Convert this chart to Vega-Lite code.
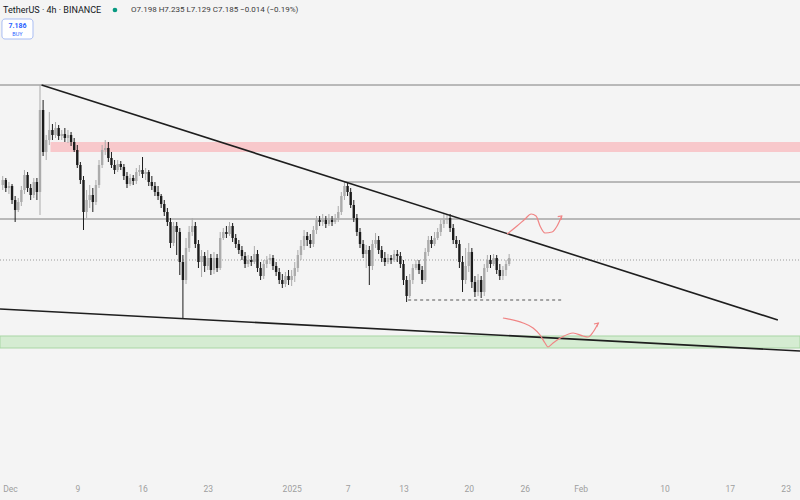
{
  "$schema": "https://vega.github.io/schema/vega-lite/v6.json",
  "width": 800,
  "height": 478,
  "autosize": "none",
  "padding": {"left": 0, "top": 0, "right": 0, "bottom": 22},
  "background": "#f4f4f4",
  "config": {"view": {"stroke": null, "fill": "#f4f4f4"}},
  "datasets": {
    "candles": [
      {"t":"2024-12-01T00:00Z","o":7.258,"h":7.267,"l":7.253,"c":7.263},
      {"t":"2024-12-01T08:00Z","o":7.263,"h":7.265,"l":7.251,"c":7.255},
      {"t":"2024-12-01T16:00Z","o":7.255,"h":7.261,"l":7.249,"c":7.257},
      {"t":"2024-12-02T00:00Z","o":7.257,"h":7.259,"l":7.239,"c":7.243},
      {"t":"2024-12-02T08:00Z","o":7.243,"h":7.247,"l":7.221,"c":7.233},
      {"t":"2024-12-02T16:00Z","o":7.233,"h":7.245,"l":7.231,"c":7.241},
      {"t":"2024-12-03T00:00Z","o":7.241,"h":7.257,"l":7.237,"c":7.253},
      {"t":"2024-12-03T08:00Z","o":7.253,"h":7.273,"l":7.249,"c":7.268},
      {"t":"2024-12-03T16:00Z","o":7.268,"h":7.271,"l":7.251,"c":7.255},
      {"t":"2024-12-04T00:00Z","o":7.255,"h":7.259,"l":7.243,"c":7.248},
      {"t":"2024-12-04T08:00Z","o":7.248,"h":7.265,"l":7.245,"c":7.261},
      {"t":"2024-12-04T16:00Z","o":7.261,"h":7.265,"l":7.243,"c":7.251},
      {"t":"2024-12-05T00:00Z","o":7.251,"h":7.358,"l":7.228,"c":7.333},
      {"t":"2024-12-05T08:00Z","o":7.333,"h":7.343,"l":7.287,"c":7.291},
      {"t":"2024-12-05T16:00Z","o":7.291,"h":7.308,"l":7.283,"c":7.303},
      {"t":"2024-12-06T00:00Z","o":7.303,"h":7.331,"l":7.298,"c":7.313},
      {"t":"2024-12-06T08:00Z","o":7.313,"h":7.319,"l":7.303,"c":7.308},
      {"t":"2024-12-06T16:00Z","o":7.308,"h":7.321,"l":7.305,"c":7.315},
      {"t":"2024-12-07T00:00Z","o":7.315,"h":7.318,"l":7.303,"c":7.307},
      {"t":"2024-12-07T08:00Z","o":7.307,"h":7.313,"l":7.303,"c":7.309},
      {"t":"2024-12-07T16:00Z","o":7.309,"h":7.315,"l":7.301,"c":7.305},
      {"t":"2024-12-08T00:00Z","o":7.305,"h":7.313,"l":7.300,"c":7.308},
      {"t":"2024-12-08T08:00Z","o":7.308,"h":7.311,"l":7.297,"c":7.301},
      {"t":"2024-12-08T16:00Z","o":7.301,"h":7.305,"l":7.291,"c":7.293},
      {"t":"2024-12-09T00:00Z","o":7.293,"h":7.298,"l":7.275,"c":7.278},
      {"t":"2024-12-09T08:00Z","o":7.278,"h":7.281,"l":7.259,"c":7.263},
      {"t":"2024-12-09T16:00Z","o":7.263,"h":7.267,"l":7.213,"c":7.231},
      {"t":"2024-12-10T00:00Z","o":7.231,"h":7.253,"l":7.225,"c":7.243},
      {"t":"2024-12-10T08:00Z","o":7.243,"h":7.258,"l":7.235,"c":7.248},
      {"t":"2024-12-10T16:00Z","o":7.248,"h":7.255,"l":7.231,"c":7.241},
      {"t":"2024-12-11T00:00Z","o":7.241,"h":7.263,"l":7.238,"c":7.258},
      {"t":"2024-12-11T08:00Z","o":7.258,"h":7.283,"l":7.255,"c":7.278},
      {"t":"2024-12-11T16:00Z","o":7.278,"h":7.298,"l":7.275,"c":7.293},
      {"t":"2024-12-12T00:00Z","o":7.293,"h":7.303,"l":7.288,"c":7.295},
      {"t":"2024-12-12T08:00Z","o":7.295,"h":7.301,"l":7.281,"c":7.285},
      {"t":"2024-12-12T16:00Z","o":7.285,"h":7.291,"l":7.275,"c":7.278},
      {"t":"2024-12-13T00:00Z","o":7.278,"h":7.283,"l":7.269,"c":7.273},
      {"t":"2024-12-13T08:00Z","o":7.273,"h":7.283,"l":7.271,"c":7.279},
      {"t":"2024-12-13T16:00Z","o":7.279,"h":7.282,"l":7.273,"c":7.276},
      {"t":"2024-12-14T00:00Z","o":7.276,"h":7.279,"l":7.263,"c":7.267},
      {"t":"2024-12-14T08:00Z","o":7.267,"h":7.271,"l":7.255,"c":7.259},
      {"t":"2024-12-14T16:00Z","o":7.259,"h":7.269,"l":7.257,"c":7.265},
      {"t":"2024-12-15T00:00Z","o":7.265,"h":7.268,"l":7.258,"c":7.262},
      {"t":"2024-12-15T08:00Z","o":7.262,"h":7.275,"l":7.259,"c":7.271},
      {"t":"2024-12-15T16:00Z","o":7.271,"h":7.278,"l":7.267,"c":7.273},
      {"t":"2024-12-16T00:00Z","o":7.273,"h":7.286,"l":7.265,"c":7.269},
      {"t":"2024-12-16T08:00Z","o":7.269,"h":7.275,"l":7.263,"c":7.271},
      {"t":"2024-12-16T16:00Z","o":7.271,"h":7.273,"l":7.257,"c":7.261},
      {"t":"2024-12-17T00:00Z","o":7.261,"h":7.267,"l":7.253,"c":7.257},
      {"t":"2024-12-17T08:00Z","o":7.257,"h":7.261,"l":7.247,"c":7.251},
      {"t":"2024-12-17T16:00Z","o":7.251,"h":7.257,"l":7.243,"c":7.247},
      {"t":"2024-12-18T00:00Z","o":7.247,"h":7.249,"l":7.235,"c":7.239},
      {"t":"2024-12-18T08:00Z","o":7.239,"h":7.243,"l":7.227,"c":7.231},
      {"t":"2024-12-18T16:00Z","o":7.231,"h":7.235,"l":7.217,"c":7.221},
      {"t":"2024-12-19T00:00Z","o":7.221,"h":7.225,"l":7.195,"c":7.200},
      {"t":"2024-12-19T08:00Z","o":7.200,"h":7.221,"l":7.197,"c":7.217},
      {"t":"2024-12-19T16:00Z","o":7.217,"h":7.221,"l":7.188,"c":7.211},
      {"t":"2024-12-20T00:00Z","o":7.211,"h":7.215,"l":7.168,"c":7.181},
      {"t":"2024-12-20T08:00Z","o":7.181,"h":7.188,"l":7.125,"c":7.163},
      {"t":"2024-12-20T16:00Z","o":7.163,"h":7.205,"l":7.159,"c":7.195},
      {"t":"2024-12-21T00:00Z","o":7.195,"h":7.217,"l":7.191,"c":7.211},
      {"t":"2024-12-21T08:00Z","o":7.211,"h":7.225,"l":7.207,"c":7.217},
      {"t":"2024-12-21T16:00Z","o":7.217,"h":7.221,"l":7.195,"c":7.199},
      {"t":"2024-12-22T00:00Z","o":7.199,"h":7.203,"l":7.175,"c":7.181},
      {"t":"2024-12-22T08:00Z","o":7.181,"h":7.193,"l":7.166,"c":7.187},
      {"t":"2024-12-22T16:00Z","o":7.187,"h":7.191,"l":7.171,"c":7.177},
      {"t":"2024-12-23T00:00Z","o":7.177,"h":7.193,"l":7.173,"c":7.185},
      {"t":"2024-12-23T08:00Z","o":7.185,"h":7.189,"l":7.168,"c":7.173},
      {"t":"2024-12-23T16:00Z","o":7.173,"h":7.191,"l":7.169,"c":7.185},
      {"t":"2024-12-24T00:00Z","o":7.185,"h":7.189,"l":7.171,"c":7.175},
      {"t":"2024-12-24T08:00Z","o":7.175,"h":7.211,"l":7.173,"c":7.205},
      {"t":"2024-12-24T16:00Z","o":7.205,"h":7.215,"l":7.203,"c":7.211},
      {"t":"2024-12-25T00:00Z","o":7.211,"h":7.217,"l":7.205,"c":7.209},
      {"t":"2024-12-25T08:00Z","o":7.209,"h":7.221,"l":7.207,"c":7.217},
      {"t":"2024-12-25T16:00Z","o":7.217,"h":7.220,"l":7.201,"c":7.205},
      {"t":"2024-12-26T00:00Z","o":7.205,"h":7.209,"l":7.195,"c":7.199},
      {"t":"2024-12-26T08:00Z","o":7.199,"h":7.203,"l":7.189,"c":7.193},
      {"t":"2024-12-26T16:00Z","o":7.193,"h":7.197,"l":7.183,"c":7.187},
      {"t":"2024-12-27T00:00Z","o":7.187,"h":7.191,"l":7.175,"c":7.179},
      {"t":"2024-12-27T08:00Z","o":7.179,"h":7.188,"l":7.176,"c":7.183},
      {"t":"2024-12-27T16:00Z","o":7.183,"h":7.187,"l":7.177,"c":7.181},
      {"t":"2024-12-28T00:00Z","o":7.181,"h":7.197,"l":7.179,"c":7.189},
      {"t":"2024-12-28T08:00Z","o":7.189,"h":7.193,"l":7.171,"c":7.175},
      {"t":"2024-12-28T16:00Z","o":7.175,"h":7.181,"l":7.163,"c":7.167},
      {"t":"2024-12-29T00:00Z","o":7.167,"h":7.183,"l":7.164,"c":7.179},
      {"t":"2024-12-29T08:00Z","o":7.179,"h":7.187,"l":7.175,"c":7.183},
      {"t":"2024-12-29T16:00Z","o":7.183,"h":7.189,"l":7.179,"c":7.185},
      {"t":"2024-12-30T00:00Z","o":7.185,"h":7.188,"l":7.173,"c":7.177},
      {"t":"2024-12-30T08:00Z","o":7.177,"h":7.181,"l":7.167,"c":7.171},
      {"t":"2024-12-30T16:00Z","o":7.171,"h":7.175,"l":7.159,"c":7.163},
      {"t":"2024-12-31T00:00Z","o":7.163,"h":7.169,"l":7.155,"c":7.159},
      {"t":"2024-12-31T08:00Z","o":7.159,"h":7.171,"l":7.156,"c":7.167},
      {"t":"2024-12-31T16:00Z","o":7.167,"h":7.173,"l":7.158,"c":7.163},
      {"t":"2025-01-01T00:00Z","o":7.163,"h":7.173,"l":7.157,"c":7.167},
      {"t":"2025-01-01T08:00Z","o":7.167,"h":7.181,"l":7.161,"c":7.175},
      {"t":"2025-01-01T16:00Z","o":7.175,"h":7.193,"l":7.171,"c":7.188},
      {"t":"2025-01-02T00:00Z","o":7.188,"h":7.203,"l":7.183,"c":7.197},
      {"t":"2025-01-02T08:00Z","o":7.197,"h":7.213,"l":7.193,"c":7.207},
      {"t":"2025-01-02T16:00Z","o":7.207,"h":7.211,"l":7.197,"c":7.203},
      {"t":"2025-01-03T00:00Z","o":7.203,"h":7.209,"l":7.195,"c":7.199},
      {"t":"2025-01-03T08:00Z","o":7.199,"h":7.217,"l":7.196,"c":7.213},
      {"t":"2025-01-03T16:00Z","o":7.213,"h":7.227,"l":7.209,"c":7.223},
      {"t":"2025-01-04T00:00Z","o":7.223,"h":7.227,"l":7.217,"c":7.221},
      {"t":"2025-01-04T08:00Z","o":7.221,"h":7.229,"l":7.217,"c":7.223},
      {"t":"2025-01-04T16:00Z","o":7.223,"h":7.227,"l":7.215,"c":7.219},
      {"t":"2025-01-05T00:00Z","o":7.219,"h":7.229,"l":7.217,"c":7.223},
      {"t":"2025-01-05T08:00Z","o":7.223,"h":7.227,"l":7.217,"c":7.221},
      {"t":"2025-01-05T16:00Z","o":7.221,"h":7.229,"l":7.219,"c":7.225},
      {"t":"2025-01-06T00:00Z","o":7.225,"h":7.237,"l":7.221,"c":7.231},
      {"t":"2025-01-06T08:00Z","o":7.231,"h":7.251,"l":7.228,"c":7.247},
      {"t":"2025-01-06T16:00Z","o":7.247,"h":7.261,"l":7.243,"c":7.257},
      {"t":"2025-01-07T00:00Z","o":7.257,"h":7.260,"l":7.247,"c":7.251},
      {"t":"2025-01-07T08:00Z","o":7.251,"h":7.255,"l":7.235,"c":7.238},
      {"t":"2025-01-07T16:00Z","o":7.238,"h":7.243,"l":7.221,"c":7.225},
      {"t":"2025-01-08T00:00Z","o":7.225,"h":7.229,"l":7.207,"c":7.211},
      {"t":"2025-01-08T08:00Z","o":7.211,"h":7.215,"l":7.195,"c":7.199},
      {"t":"2025-01-08T16:00Z","o":7.199,"h":7.203,"l":7.185,"c":7.189},
      {"t":"2025-01-09T00:00Z","o":7.189,"h":7.198,"l":7.175,"c":7.193},
      {"t":"2025-01-09T08:00Z","o":7.193,"h":7.197,"l":7.158,"c":7.177},
      {"t":"2025-01-09T16:00Z","o":7.177,"h":7.203,"l":7.173,"c":7.199},
      {"t":"2025-01-10T00:00Z","o":7.199,"h":7.210,"l":7.195,"c":7.203},
      {"t":"2025-01-10T08:00Z","o":7.203,"h":7.207,"l":7.189,"c":7.193},
      {"t":"2025-01-10T16:00Z","o":7.193,"h":7.197,"l":7.181,"c":7.185},
      {"t":"2025-01-11T00:00Z","o":7.185,"h":7.191,"l":7.177,"c":7.181},
      {"t":"2025-01-11T08:00Z","o":7.181,"h":7.189,"l":7.179,"c":7.185},
      {"t":"2025-01-11T16:00Z","o":7.185,"h":7.188,"l":7.179,"c":7.183},
      {"t":"2025-01-12T00:00Z","o":7.183,"h":7.193,"l":7.181,"c":7.189},
      {"t":"2025-01-12T08:00Z","o":7.189,"h":7.193,"l":7.181,"c":7.187},
      {"t":"2025-01-12T16:00Z","o":7.187,"h":7.191,"l":7.175,"c":7.179},
      {"t":"2025-01-13T00:00Z","o":7.179,"h":7.183,"l":7.158,"c":7.163},
      {"t":"2025-01-13T08:00Z","o":7.163,"h":7.167,"l":7.141,"c":7.147},
      {"t":"2025-01-13T16:00Z","o":7.147,"h":7.169,"l":7.145,"c":7.163},
      {"t":"2025-01-14T00:00Z","o":7.163,"h":7.179,"l":7.159,"c":7.175},
      {"t":"2025-01-14T08:00Z","o":7.175,"h":7.183,"l":7.173,"c":7.179},
      {"t":"2025-01-14T16:00Z","o":7.179,"h":7.183,"l":7.169,"c":7.173},
      {"t":"2025-01-15T00:00Z","o":7.173,"h":7.177,"l":7.159,"c":7.163},
      {"t":"2025-01-15T08:00Z","o":7.163,"h":7.195,"l":7.161,"c":7.191},
      {"t":"2025-01-15T16:00Z","o":7.191,"h":7.207,"l":7.187,"c":7.203},
      {"t":"2025-01-16T00:00Z","o":7.203,"h":7.207,"l":7.195,"c":7.199},
      {"t":"2025-01-16T08:00Z","o":7.199,"h":7.211,"l":7.197,"c":7.205},
      {"t":"2025-01-16T16:00Z","o":7.205,"h":7.215,"l":7.203,"c":7.211},
      {"t":"2025-01-17T00:00Z","o":7.211,"h":7.223,"l":7.207,"c":7.219},
      {"t":"2025-01-17T08:00Z","o":7.219,"h":7.229,"l":7.215,"c":7.223},
      {"t":"2025-01-17T16:00Z","o":7.223,"h":7.229,"l":7.219,"c":7.225},
      {"t":"2025-01-18T00:00Z","o":7.225,"h":7.229,"l":7.211,"c":7.215},
      {"t":"2025-01-18T08:00Z","o":7.215,"h":7.219,"l":7.199,"c":7.203},
      {"t":"2025-01-18T16:00Z","o":7.203,"h":7.207,"l":7.195,"c":7.199},
      {"t":"2025-01-19T00:00Z","o":7.199,"h":7.203,"l":7.175,"c":7.181},
      {"t":"2025-01-19T08:00Z","o":7.181,"h":7.187,"l":7.151,"c":7.163},
      {"t":"2025-01-19T16:00Z","o":7.163,"h":7.195,"l":7.159,"c":7.177},
      {"t":"2025-01-20T00:00Z","o":7.177,"h":7.200,"l":7.171,"c":7.191},
      {"t":"2025-01-20T08:00Z","o":7.191,"h":7.195,"l":7.155,"c":7.161},
      {"t":"2025-01-20T16:00Z","o":7.161,"h":7.167,"l":7.146,"c":7.151},
      {"t":"2025-01-21T00:00Z","o":7.151,"h":7.169,"l":7.147,"c":7.163},
      {"t":"2025-01-21T08:00Z","o":7.163,"h":7.167,"l":7.145,"c":7.151},
      {"t":"2025-01-21T16:00Z","o":7.151,"h":7.179,"l":7.147,"c":7.175},
      {"t":"2025-01-22T00:00Z","o":7.175,"h":7.188,"l":7.171,"c":7.183},
      {"t":"2025-01-22T08:00Z","o":7.183,"h":7.188,"l":7.175,"c":7.179},
      {"t":"2025-01-22T16:00Z","o":7.179,"h":7.189,"l":7.177,"c":7.185},
      {"t":"2025-01-23T00:00Z","o":7.185,"h":7.188,"l":7.169,"c":7.173},
      {"t":"2025-01-23T08:00Z","o":7.173,"h":7.179,"l":7.163,"c":7.167},
      {"t":"2025-01-23T16:00Z","o":7.167,"h":7.177,"l":7.163,"c":7.173},
      {"t":"2025-01-24T00:00Z","o":7.173,"h":7.183,"l":7.167,"c":7.179},
      {"t":"2025-01-24T08:00Z","o":7.179,"h":7.189,"l":7.177,"c":7.185}
    ],
    "resistanceZone": [{"t":"2024-12-06T03:00Z","t2":"2025-02-24T13:00Z","p":7.301,"p2":7.291}],
    "supportZone": [{"t":"2024-11-30T17:00Z","t2":"2025-02-24T13:00Z","p":7.107,"p2":7.095}],
    "levels": [
      {"t":"2024-11-30T17:00Z","t2":"2025-02-24T13:00Z","p":7.358},
      {"t":"2024-11-30T17:00Z","t2":"2025-02-24T13:00Z","p":7.224},
      {"t":"2025-01-06T16:00Z","t2":"2025-02-24T13:00Z","p":7.261}
    ],
    "lastPrice": [{"t":"2024-11-30T17:00Z","t2":"2025-02-24T13:00Z","p":7.183}],
    "lowLine": [{"t":"2025-01-13T12:00Z","t2":"2025-01-30T00:00Z","p":7.143}],
    "trendlines": [
      {"g":"falling","t":"2024-12-05T04:00Z","p":7.358},
      {"g":"falling","t":"2025-02-22T04:00Z","p":7.123},
      {"g":"support","t":"2024-11-30T17:00Z","p":7.134},
      {"g":"support","t":"2025-02-24T13:00Z","p":7.092}
    ],
    "paths": [
      {"g":"up","t":"2025-01-24T02:40Z","p":7.209},
      {"g":"up","t":"2025-01-25T04:20Z","p":7.217},
      {"g":"up","t":"2025-01-26T01:00Z","p":7.224},
      {"g":"up","t":"2025-01-26T16:30Z","p":7.229},
      {"g":"up","t":"2025-01-27T05:20Z","p":7.227},
      {"g":"up","t":"2025-01-27T15:40Z","p":7.217},
      {"g":"up","t":"2025-01-28T04:20Z","p":7.210},
      {"g":"up","t":"2025-01-28T22:30Z","p":7.211},
      {"g":"up","t":"2025-01-29T11:30Z","p":7.217},
      {"g":"up","t":"2025-01-29T23:30Z","p":7.227},
      {"g":"down","t":"2025-01-23T16:00Z","p":7.125},
      {"g":"down","t":"2025-01-25T20:00Z","p":7.120},
      {"g":"down","t":"2025-01-26T21:40Z","p":7.115},
      {"g":"down","t":"2025-01-27T15:40Z","p":7.108},
      {"g":"down","t":"2025-01-28T04:20Z","p":7.100},
      {"g":"down","t":"2025-01-28T12:15Z","p":7.096},
      {"g":"down","t":"2025-01-29T01:10Z","p":7.100},
      {"g":"down","t":"2025-01-30T00:15Z","p":7.106},
      {"g":"down","t":"2025-01-31T04:30Z","p":7.110},
      {"g":"down","t":"2025-02-01T06:15Z","p":7.107},
      {"g":"down","t":"2025-02-01T19:10Z","p":7.106},
      {"g":"down","t":"2025-02-02T08:20Z","p":7.111},
      {"g":"down","t":"2025-02-02T21:40Z","p":7.120}
    ],
    "arrowheads": [
      {"g":"upHead","k":0,"t":"2025-01-29T13:10Z","p":7.2263},
      {"g":"upHead","k":1,"t":"2025-01-29T23:30Z","p":7.227},
      {"g":"upHead","k":2,"t":"2025-01-29T21:40Z","p":7.223},
      {"g":"downHead","k":0,"t":"2025-02-02T10:30Z","p":7.119},
      {"g":"downHead","k":1,"t":"2025-02-02T21:40Z","p":7.120},
      {"g":"downHead","k":2,"t":"2025-02-02T17:30Z","p":7.116}
    ]
  },
  "layer": [
    {
      "data": {"name": "supportZone"},
      "mark": {"type": "rect", "fill": "#d5ecd2", "stroke": "#a9d6a5", "strokeWidth": 1, "clip": true},
      "encoding": {
        "x": {
          "field": "t", "type": "temporal", "title": null,
          "scale": {"type": "utc", "nice": false, "padding": 0, "domain": [
            {"year": 2024, "month": 11, "date": 30, "hours": 17, "utc": true},
            {"year": 2025, "month": 2, "date": 24, "hours": 13, "utc": true}
          ]},
          "axis": {
            "values": [
              {"year": 2024, "month": 12, "date": 1, "utc": true},
              {"year": 2024, "month": 12, "date": 9, "utc": true},
              {"year": 2024, "month": 12, "date": 16, "utc": true},
              {"year": 2024, "month": 12, "date": 23, "utc": true},
              {"year": 2025, "month": 1, "date": 1, "utc": true},
              {"year": 2025, "month": 1, "date": 7, "utc": true},
              {"year": 2025, "month": 1, "date": 13, "utc": true},
              {"year": 2025, "month": 1, "date": 20, "utc": true},
              {"year": 2025, "month": 1, "date": 26, "utc": true},
              {"year": 2025, "month": 2, "date": 1, "utc": true},
              {"year": 2025, "month": 2, "date": 10, "utc": true},
              {"year": 2025, "month": 2, "date": 17, "utc": true},
              {"year": 2025, "month": 2, "date": 23, "utc": true}
            ],
            "labelExpr": "utcdate(datum.value) == 1 ? (utcmonth(datum.value) == 0 ? '2025' : utcFormat(datum.value, '%b')) : utcFormat(datum.value, '%-d')",
            "domain": false, "ticks": false, "grid": false,
            "labelFont": "Roboto", "labelFontSize": 8.5, "labelColor": "#9e9e9e",
            "labelPadding": 6, "labelOverlap": false, "labelFlush": 5, "labelBound": false
          }
        },
        "x2": {"field": "t2"},
        "y": {"field": "p", "type": "quantitative", "axis": null, "scale": {"domain": [6.965, 7.443], "nice": false, "zero": false}},
        "y2": {"field": "p2"}
      }
    },
    {
      "data": {"name": "resistanceZone"},
      "mark": {"type": "rect", "fill": "#f8c8cb", "clip": true},
      "encoding": {
        "x": {"field": "t", "type": "temporal", "title": null},
        "x2": {"field": "t2"},
        "y": {"field": "p", "type": "quantitative", "axis": null},
        "y2": {"field": "p2"}
      }
    },
    {
      "data": {"name": "lastPrice"},
      "mark": {"type": "rule", "color": "#9a9a9a", "strokeWidth": 1, "strokeDash": [1, 2]},
      "encoding": {
        "x": {"field": "t", "type": "temporal", "title": null},
        "x2": {"field": "t2"},
        "y": {"field": "p", "type": "quantitative", "axis": null}
      }
    },
    {
      "data": {"name": "levels"},
      "mark": {"type": "rule", "color": "#707070", "strokeWidth": 0.9},
      "encoding": {
        "x": {"field": "t", "type": "temporal", "title": null},
        "x2": {"field": "t2"},
        "y": {"field": "p", "type": "quantitative", "axis": null}
      }
    },
    {
      "data": {"name": "lowLine"},
      "mark": {"type": "rule", "color": "#555555", "strokeWidth": 1, "strokeDash": [3, 3]},
      "encoding": {
        "x": {"field": "t", "type": "temporal", "title": null},
        "x2": {"field": "t2"},
        "y": {"field": "p", "type": "quantitative", "axis": null}
      }
    },
    {
      "data": {"name": "candles"},
      "mark": {"type": "rule", "strokeWidth": 1},
      "encoding": {
        "x": {"field": "t", "type": "temporal", "title": null},
        "y": {"field": "l", "type": "quantitative", "axis": null},
        "y2": {"field": "h"},
        "color": {"condition": {"test": "datum.c < datum.o", "value": "#1c1c1c"}, "value": "#ababab"}
      }
    },
    {
      "data": {"name": "candles"},
      "mark": {"type": "bar", "width": 2.4},
      "encoding": {
        "x": {"field": "t", "type": "temporal", "title": null},
        "y": {"field": "o", "type": "quantitative", "axis": null},
        "y2": {"field": "c"},
        "color": {"condition": {"test": "datum.c < datum.o", "value": "#1c1c1c"}, "value": "#ababab"}
      }
    },
    {
      "data": {"name": "trendlines"},
      "mark": {"type": "line", "color": "#1e1e1e", "strokeWidth": 1.6, "clip": true},
      "encoding": {
        "x": {"field": "t", "type": "temporal", "title": null},
        "y": {"field": "p", "type": "quantitative", "axis": null},
        "detail": {"field": "g"}
      }
    },
    {
      "data": {"name": "paths"},
      "mark": {"type": "line", "color": "#f08585", "strokeWidth": 1.2, "interpolate": "monotone"},
      "encoding": {
        "x": {"field": "t", "type": "temporal", "title": null},
        "y": {"field": "p", "type": "quantitative", "axis": null},
        "detail": {"field": "g"}
      }
    },
    {
      "data": {"name": "arrowheads"},
      "mark": {"type": "line", "color": "#f08585", "strokeWidth": 1.2},
      "encoding": {
        "x": {"field": "t", "type": "temporal", "title": null},
        "y": {"field": "p", "type": "quantitative", "axis": null},
        "detail": {"field": "g"},
        "order": {"field": "k"}
      }
    },
    {
      "data": {"values": [{}]},
      "mark": {"type": "text", "align": "left", "baseline": "middle", "font": "Roboto", "fontSize": 9, "color": "#131722"},
      "encoding": {
        "x": {"datum": {"year": 2024, "month": 12, "date": 1, "hours": 1, "utc": true}, "type": "temporal"},
        "y": {"datum": 7.433, "type": "quantitative"},
        "text": {"value": "TetherUS · 4h · BINANCE"}
      }
    },
    {
      "data": {"values": [{}]},
      "mark": {"type": "point", "filled": true, "size": 22, "color": "#089981", "opacity": 1},
      "encoding": {
        "x": {"datum": {"year": 2024, "month": 12, "date": 13, "hours": 1, "utc": true}, "type": "temporal"},
        "y": {"datum": 7.433, "type": "quantitative"}
      }
    },
    {
      "data": {"values": [{}]},
      "mark": {"type": "text", "align": "left", "baseline": "middle", "font": "Roboto", "fontSize": 8, "color": "#3b3b3b"},
      "encoding": {
        "x": {"datum": {"year": 2024, "month": 12, "date": 14, "hours": 18, "minutes": 30, "utc": true}, "type": "temporal"},
        "y": {"datum": 7.433, "type": "quantitative"},
        "text": {"value": "O7.198 H7.235 L7.129 C7.185 −0.014 (−0.19%)"}
      }
    },
    {
      "data": {"values": [{}]},
      "mark": {"type": "rect", "fill": "#ffffff", "stroke": "#a9bdf3", "strokeWidth": 1, "cornerRadius": 3},
      "encoding": {
        "x": {"datum": {"year": 2024, "month": 11, "date": 30, "hours": 22, "utc": true}, "type": "temporal"},
        "x2": {"datum": {"year": 2024, "month": 12, "date": 4, "hours": 6, "utc": true}},
        "y": {"datum": 7.424, "type": "quantitative"},
        "y2": {"datum": 7.404}
      }
    },
    {
      "data": {"values": [{}]},
      "mark": {"type": "text", "align": "center", "baseline": "middle", "font": "Roboto", "fontSize": 7, "fontWeight": "bold", "color": "#2962ff"},
      "encoding": {
        "x": {"datum": {"year": 2024, "month": 12, "date": 2, "hours": 14, "utc": true}, "type": "temporal"},
        "y": {"datum": 7.417, "type": "quantitative"},
        "text": {"value": "7.186"}
      }
    },
    {
      "data": {"values": [{}]},
      "mark": {"type": "text", "align": "center", "baseline": "middle", "font": "Roboto", "fontSize": 5.5, "color": "#2962ff"},
      "encoding": {
        "x": {"datum": {"year": 2024, "month": 12, "date": 2, "hours": 14, "utc": true}, "type": "temporal"},
        "y": {"datum": 7.409, "type": "quantitative"},
        "text": {"value": "BUY"}
      }
    }
  ]
}
